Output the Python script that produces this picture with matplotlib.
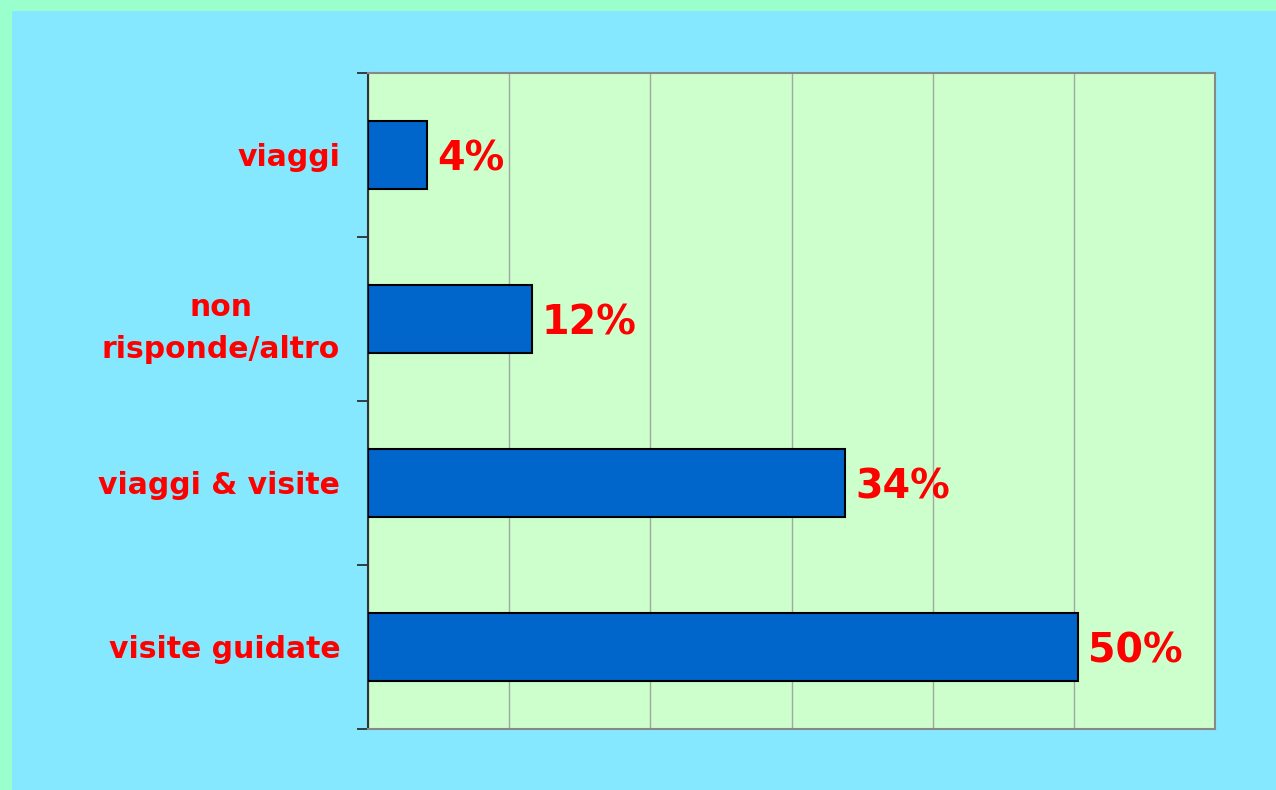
import matplotlib.pyplot as plt
from matplotlib.patches import Rectangle

categories = ['visite guidate', 'viaggi & visite', 'non\nrisponde/altro', 'viaggi']
values = [50.3, 33.8, 11.6, 4.2]
labels = ['50%', '34%', '12%', '4%']

fig = plt.figure(figsize=(12.76, 7.90), dpi=100, facecolor='#99FFCC')
fig.patches.append(Rectangle((12 / 1276, 0), 1, 1 - 11 / 790, transform=fig.transFigure,
                             facecolor='#86E8FF', edgecolor='none', zorder=-5))

ax = fig.add_axes([368 / 1276, 1 - 729 / 790, (1215 - 368) / 1276, (729 - 73) / 790])
ax.set_facecolor('#CCFFCC')

pos = list(range(len(categories)))
ax.barh(pos, values, height=0.41, color='#0066CC', edgecolor='black', linewidth=1.5, zorder=3)
for p, v, lab in zip(pos, values, labels):
    ax.text(v + 0.7, p, lab, va='center_baseline', ha='left', color='red',
            fontsize=28.5, fontweight='bold', zorder=4)

ax.set_xlim(0, 60)
ax.set_ylim(-0.5, len(categories) - 0.5)
ax.set_xticks(range(0, 61, 10))
ax.tick_params(axis='x', length=0, labelbottom=False)
ax.grid(axis='x', color='#A0A8A0', linewidth=1, zorder=1)

ax.set_yticks(pos)
ax.set_yticklabels(categories, color='red', fontsize=21.5, fontweight='bold',
                   linespacing=1.55, multialignment='center')
ax.tick_params(axis='y', which='major', length=0, pad=20)
ax.set_yticks([p - 0.5 for p in pos] + [len(pos) - 0.5], minor=True)
ax.tick_params(axis='y', which='minor', length=8, width=1.2, color='#222222', direction='out')

ax.spines['left'].set_color('#333333')
ax.spines['left'].set_linewidth(1.5)
for s in ['top', 'right', 'bottom']:
    ax.spines[s].set_color('#888888')
    ax.spines[s].set_linewidth(1.5)

fig.savefig('out.png', dpi=100, facecolor=fig.get_facecolor())
